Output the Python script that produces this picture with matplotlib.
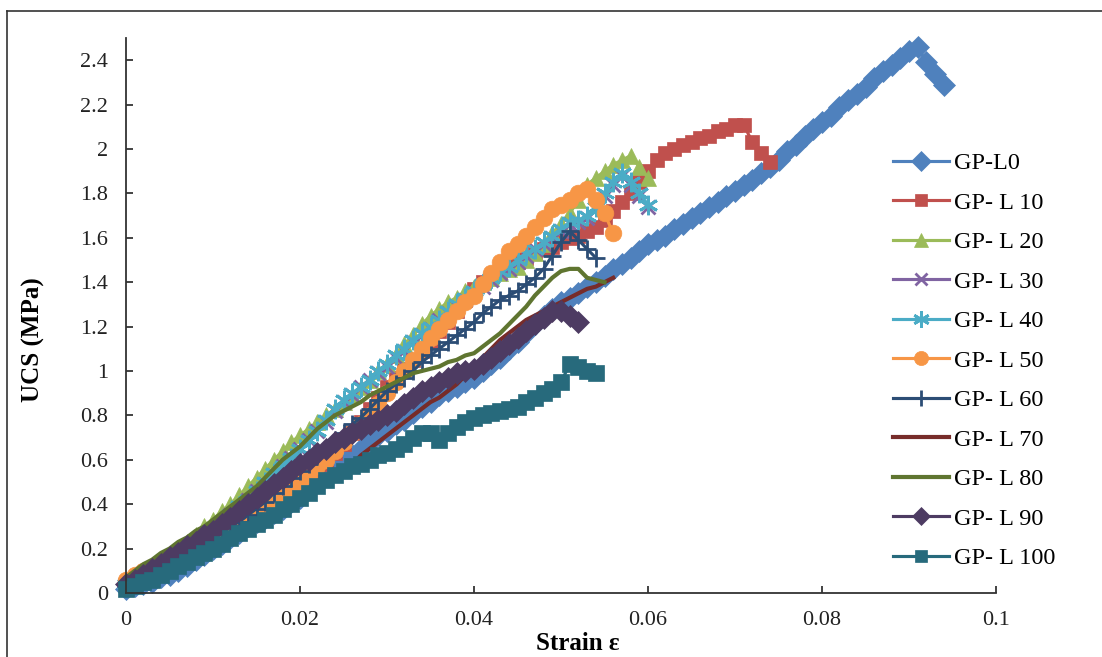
import matplotlib
matplotlib.use("Agg")
import matplotlib.pyplot as plt
from matplotlib.lines import Line2D
from matplotlib.ticker import FuncFormatter, MultipleLocator

plt.rcParams['font.family'] = ['Liberation Serif', 'DejaVu Serif']

# strain grid shared by all specimens (each curve uses the first len(ucs) points)
strain = [0.000, 0.001, 0.002, 0.003, 0.004, 0.005, 0.006, 0.007, 0.008, 0.009,
          0.010, 0.011, 0.012, 0.013, 0.014, 0.015, 0.016, 0.017, 0.018, 0.019,
          0.020, 0.021, 0.022, 0.023, 0.024, 0.025, 0.026, 0.027, 0.028, 0.029,
          0.030, 0.031, 0.032, 0.033, 0.034, 0.035, 0.036, 0.037, 0.038, 0.039,
          0.040, 0.041, 0.042, 0.043, 0.044, 0.045, 0.046, 0.047, 0.048, 0.049,
          0.050, 0.051, 0.052, 0.053, 0.054, 0.055, 0.056, 0.057, 0.058, 0.059,
          0.060, 0.061, 0.062, 0.063, 0.064, 0.065, 0.066, 0.067, 0.068, 0.069,
          0.070, 0.071, 0.072, 0.073, 0.074, 0.075, 0.076, 0.077, 0.078, 0.079,
          0.080, 0.081, 0.082, 0.083, 0.084, 0.085, 0.086, 0.087, 0.088, 0.089,
          0.090, 0.091, 0.092, 0.093, 0.094]

# UCS (MPa) readings
ucs_l0 = [0.02, 0.03, 0.04, 0.05, 0.07, 0.08, 0.10, 0.12, 0.15, 0.17,
          0.20, 0.22, 0.25, 0.27, 0.30, 0.32, 0.34, 0.36, 0.38, 0.41,
          0.43, 0.47, 0.50, 0.53, 0.56, 0.59, 0.62, 0.65, 0.68, 0.71,
          0.73, 0.76, 0.78, 0.81, 0.84, 0.86, 0.89, 0.91, 0.93, 0.95,
          0.97, 1.00, 1.03, 1.06, 1.10, 1.13, 1.17, 1.21, 1.25, 1.28,
          1.31, 1.33, 1.35, 1.38, 1.40, 1.43, 1.46, 1.48, 1.51, 1.54,
          1.57, 1.59, 1.61, 1.64, 1.66, 1.69, 1.71, 1.74, 1.76, 1.79,
          1.81, 1.84, 1.86, 1.89, 1.92, 1.95, 1.99, 2.02, 2.06, 2.09,
          2.12, 2.15, 2.19, 2.22, 2.25, 2.28, 2.32, 2.35, 2.38, 2.41,
          2.44, 2.46, 2.39, 2.34, 2.29]

ucs_l10 = [0.03, 0.04, 0.06, 0.07, 0.09, 0.10, 0.12, 0.14, 0.16, 0.19,
           0.21, 0.23, 0.25, 0.27, 0.29, 0.31, 0.34, 0.37, 0.40, 0.43,
           0.46, 0.50, 0.54, 0.58, 0.63, 0.67, 0.72, 0.77, 0.83, 0.88,
           0.93, 0.97, 1.01, 1.05, 1.09, 1.13, 1.18, 1.22, 1.27, 1.32,
           1.37, 1.40, 1.42, 1.45, 1.47, 1.49, 1.51, 1.53, 1.55, 1.56,
           1.58, 1.60, 1.61, 1.63, 1.65, 1.68, 1.72, 1.76, 1.80, 1.85,
           1.90, 1.95, 1.98, 2.00, 2.02, 2.03, 2.05, 2.06, 2.08, 2.09,
           2.11, 2.11, 2.03, 1.98, 1.94]

ucs_l20 = [0.05, 0.07, 0.09, 0.12, 0.14, 0.17, 0.20, 0.23, 0.26, 0.30,
           0.33, 0.37, 0.40, 0.44, 0.48, 0.52, 0.56, 0.60, 0.64, 0.68,
           0.71, 0.74, 0.77, 0.80, 0.83, 0.86, 0.89, 0.93, 0.96, 1.00,
           1.03, 1.07, 1.12, 1.16, 1.21, 1.25, 1.28, 1.31, 1.33, 1.36,
           1.38, 1.40, 1.42, 1.44, 1.46, 1.47, 1.50, 1.53, 1.57, 1.62,
           1.66, 1.71, 1.77, 1.84, 1.87, 1.90, 1.93, 1.95, 1.97, 1.92,
           1.87]

ucs_l40 = [0.04, 0.06, 0.08, 0.10, 0.12, 0.14, 0.17, 0.19, 0.22, 0.25,
           0.28, 0.32, 0.35, 0.39, 0.42, 0.46, 0.50, 0.54, 0.57, 0.61,
           0.65, 0.69, 0.73, 0.78, 0.83, 0.87, 0.90, 0.93, 0.96, 1.00,
           1.03, 1.07, 1.10, 1.14, 1.17, 1.20, 1.23, 1.27, 1.30, 1.33,
           1.36, 1.39, 1.42, 1.45, 1.47, 1.50, 1.53, 1.55, 1.58, 1.61,
           1.64, 1.67, 1.68, 1.70, 1.74, 1.80, 1.85, 1.89, 1.85, 1.80,
           1.75]

# GP-L30 lies underneath GP-L40 over its whole length
ucs_l30 = [0.04, 0.06, 0.08, 0.10, 0.12, 0.14, 0.17, 0.19, 0.22, 0.25,
           0.28, 0.31, 0.35, 0.38, 0.42, 0.46, 0.49, 0.53, 0.57, 0.61,
           0.65, 0.69, 0.73, 0.77, 0.82, 0.86, 0.89, 0.93, 0.96, 0.99,
           1.02, 1.06, 1.09, 1.13, 1.16, 1.19, 1.23, 1.26, 1.29, 1.32,
           1.35, 1.38, 1.41, 1.44, 1.46, 1.49, 1.52, 1.55, 1.57, 1.60,
           1.63, 1.66, 1.67, 1.69, 1.73, 1.79, 1.84, 1.88, 1.84, 1.79,
           1.74]

ucs_l50 = [0.06, 0.08, 0.10, 0.11, 0.13, 0.15, 0.17, 0.19, 0.21, 0.23,
           0.25, 0.27, 0.29, 0.31, 0.34, 0.36, 0.38, 0.41, 0.44, 0.47,
           0.50, 0.53, 0.57, 0.60, 0.64, 0.68, 0.72, 0.76, 0.80, 0.85,
           0.90, 0.95, 1.00, 1.05, 1.10, 1.15, 1.19, 1.23, 1.27, 1.31,
           1.34, 1.39, 1.44, 1.49, 1.54, 1.57, 1.61, 1.65, 1.69, 1.73,
           1.75, 1.77, 1.80, 1.82, 1.77, 1.71, 1.62]

ucs_l60 = [0.03, 0.05, 0.07, 0.09, 0.10, 0.12, 0.14, 0.17, 0.19, 0.22,
           0.24, 0.27, 0.30, 0.32, 0.35, 0.38, 0.41, 0.45, 0.48, 0.52,
           0.55, 0.58, 0.62, 0.65, 0.69, 0.72, 0.76, 0.79, 0.83, 0.87,
           0.91, 0.94, 0.97, 1.00, 1.04, 1.07, 1.10, 1.13, 1.16, 1.19,
           1.22, 1.26, 1.29, 1.32, 1.34, 1.36, 1.39, 1.42, 1.46, 1.52,
           1.58, 1.63, 1.59, 1.55, 1.51]

ucs_l70 = [0.02, 0.04, 0.05, 0.07, 0.08, 0.10, 0.12, 0.14, 0.16, 0.18,
           0.20, 0.22, 0.25, 0.27, 0.29, 0.31, 0.33, 0.35, 0.37, 0.38,
           0.40, 0.43, 0.46, 0.49, 0.52, 0.55, 0.58, 0.62, 0.65, 0.68,
           0.71, 0.74, 0.77, 0.80, 0.83, 0.86, 0.88, 0.91, 0.94, 0.98,
           1.02, 1.06, 1.10, 1.14, 1.17, 1.20, 1.23, 1.25, 1.27, 1.29,
           1.31, 1.33, 1.35, 1.37, 1.38, 1.40, 1.42]

ucs_l80 = [0.07, 0.10, 0.13, 0.15, 0.18, 0.20, 0.23, 0.25, 0.28, 0.30,
           0.33, 0.36, 0.39, 0.42, 0.45, 0.48, 0.52, 0.56, 0.60, 0.63,
           0.66, 0.70, 0.74, 0.77, 0.80, 0.82, 0.84, 0.86, 0.89, 0.91,
           0.93, 0.95, 0.97, 0.99, 1.00, 1.01, 1.02, 1.04, 1.05, 1.07,
           1.08, 1.11, 1.14, 1.17, 1.21, 1.25, 1.29, 1.34, 1.38, 1.42,
           1.45, 1.46, 1.46, 1.42, 1.41, 1.40]

ucs_l90 = [0.04, 0.06, 0.08, 0.11, 0.13, 0.16, 0.18, 0.21, 0.23, 0.26,
           0.28, 0.31, 0.34, 0.37, 0.40, 0.43, 0.46, 0.49, 0.52, 0.55,
           0.58, 0.60, 0.63, 0.65, 0.68, 0.70, 0.72, 0.74, 0.76, 0.78,
           0.80, 0.82, 0.85, 0.88, 0.91, 0.93, 0.95, 0.97, 0.99, 1.00,
           1.01, 1.03, 1.06, 1.09, 1.12, 1.15, 1.18, 1.21, 1.24, 1.27,
           1.27, 1.25, 1.22]

ucs_l100 = [0.02, 0.03, 0.05, 0.06, 0.08, 0.10, 0.12, 0.14, 0.16, 0.18,
            0.20, 0.22, 0.25, 0.27, 0.29, 0.31, 0.33, 0.35, 0.38, 0.40,
            0.43, 0.45, 0.48, 0.51, 0.53, 0.55, 0.57, 0.58, 0.60, 0.62,
            0.63, 0.65, 0.67, 0.70, 0.72, 0.72, 0.69, 0.72, 0.75, 0.77,
            0.79, 0.80, 0.81, 0.82, 0.83, 0.84, 0.86, 0.88, 0.90, 0.92,
            0.95, 1.03, 1.02, 1.00, 0.99]

labels = ['GP-L0', 'GP- L 10', 'GP- L 20', 'GP- L 30', 'GP- L 40', 'GP- L 50',
          'GP- L 60', 'GP- L 70', 'GP- L 80', 'GP- L 90', 'GP- L 100']
series = [ucs_l0, ucs_l10, ucs_l20, ucs_l30, ucs_l40, ucs_l50,
          ucs_l60, ucs_l70, ucs_l80, ucs_l90, ucs_l100]
colors = ['#4F81BD', '#C0504D', '#9BBB59', '#8064A2', '#4BACC6', '#F79646',
          '#2C4D75', '#772C2A', '#5F7530', '#4D3B62', '#276A7C']
markers = ['D', 's', '^', 'x', (6, 2, 0), 'o', '+', None, None, 'D', 's']
msizes = [11.5, 10, 12, 10, 14, 12, 13, 0, 0, 11, 11]
widths = [2.25, 2.25, 2.25, 2.25, 2.25, 2.25, 2.25, 3, 3, 2.25, 2.25]

fig = plt.figure(figsize=(11.02, 6.57), dpi=100)
ax = fig.add_axes([126 / 1102, 1 - 593 / 657, 870 / 1102, 555 / 657])

for ucs, lab, c, m, ms, lw in zip(series, labels, colors, markers, msizes, widths):
    ax.plot(strain[:len(ucs)], ucs, color=c, lw=lw, marker=m, markersize=ms,
            markeredgewidth=2 if m in ('x', '+', (6, 2, 0)) else 0.5,
            markerfacecolor=c, markeredgecolor=c, label=lab, clip_on=False)

ax.set_xlim(0, 0.1)
ax.set_ylim(0, 2.5)
ax.xaxis.set_major_locator(MultipleLocator(0.02))
ax.set_yticks([0, 0.2, 0.4, 0.6, 0.8, 1, 1.2, 1.4, 1.6, 1.8, 2, 2.2, 2.4])
ax.xaxis.set_major_formatter(FuncFormatter(lambda v, p: '%g' % round(v, 3)))
ax.yaxis.set_major_formatter(FuncFormatter(lambda v, p: '%g' % round(v, 2)))
ax.tick_params(direction='in', length=5, width=1.2, labelsize=16, pad=13,
               colors='#222222')
for s in ['top', 'right']:
    ax.spines[s].set_visible(False)
for s in ['left', 'bottom']:
    ax.spines[s].set_linewidth(1.3)
    ax.spines[s].set_color('#333333')

fig.text(33 / 1102, 1 - 340 / 657, 'UCS (MPa)', rotation=90, fontsize=18,
         fontweight='bold', ha='center', va='center')
fig.text(578 / 1102, 1 - 643 / 657, 'Strain ε', fontsize=18,
         fontweight='bold', ha='center', va='center')

leg = ax.legend(loc='upper left', bbox_to_anchor=(893 / 1102, 1 - 152 / 657),
                bbox_transform=fig.transFigure, frameon=False, fontsize=17.5,
                numpoints=1, handlelength=2.3, handletextpad=0.2,
                labelspacing=0.72, borderpad=0, borderaxespad=0, markerscale=0.85)

# outer frame of the picture
fig.add_artist(Line2D([7 / 1102, 7 / 1102], [-0.1, 1 - 10.5 / 657],
                      transform=fig.transFigure, color='#333333', lw=1.2))
fig.add_artist(Line2D([7 / 1102, 1.1], [1 - 10.5 / 657, 1 - 10.5 / 657],
                      transform=fig.transFigure, color='#333333', lw=1.2))

fig.savefig('out.png', dpi=100)
